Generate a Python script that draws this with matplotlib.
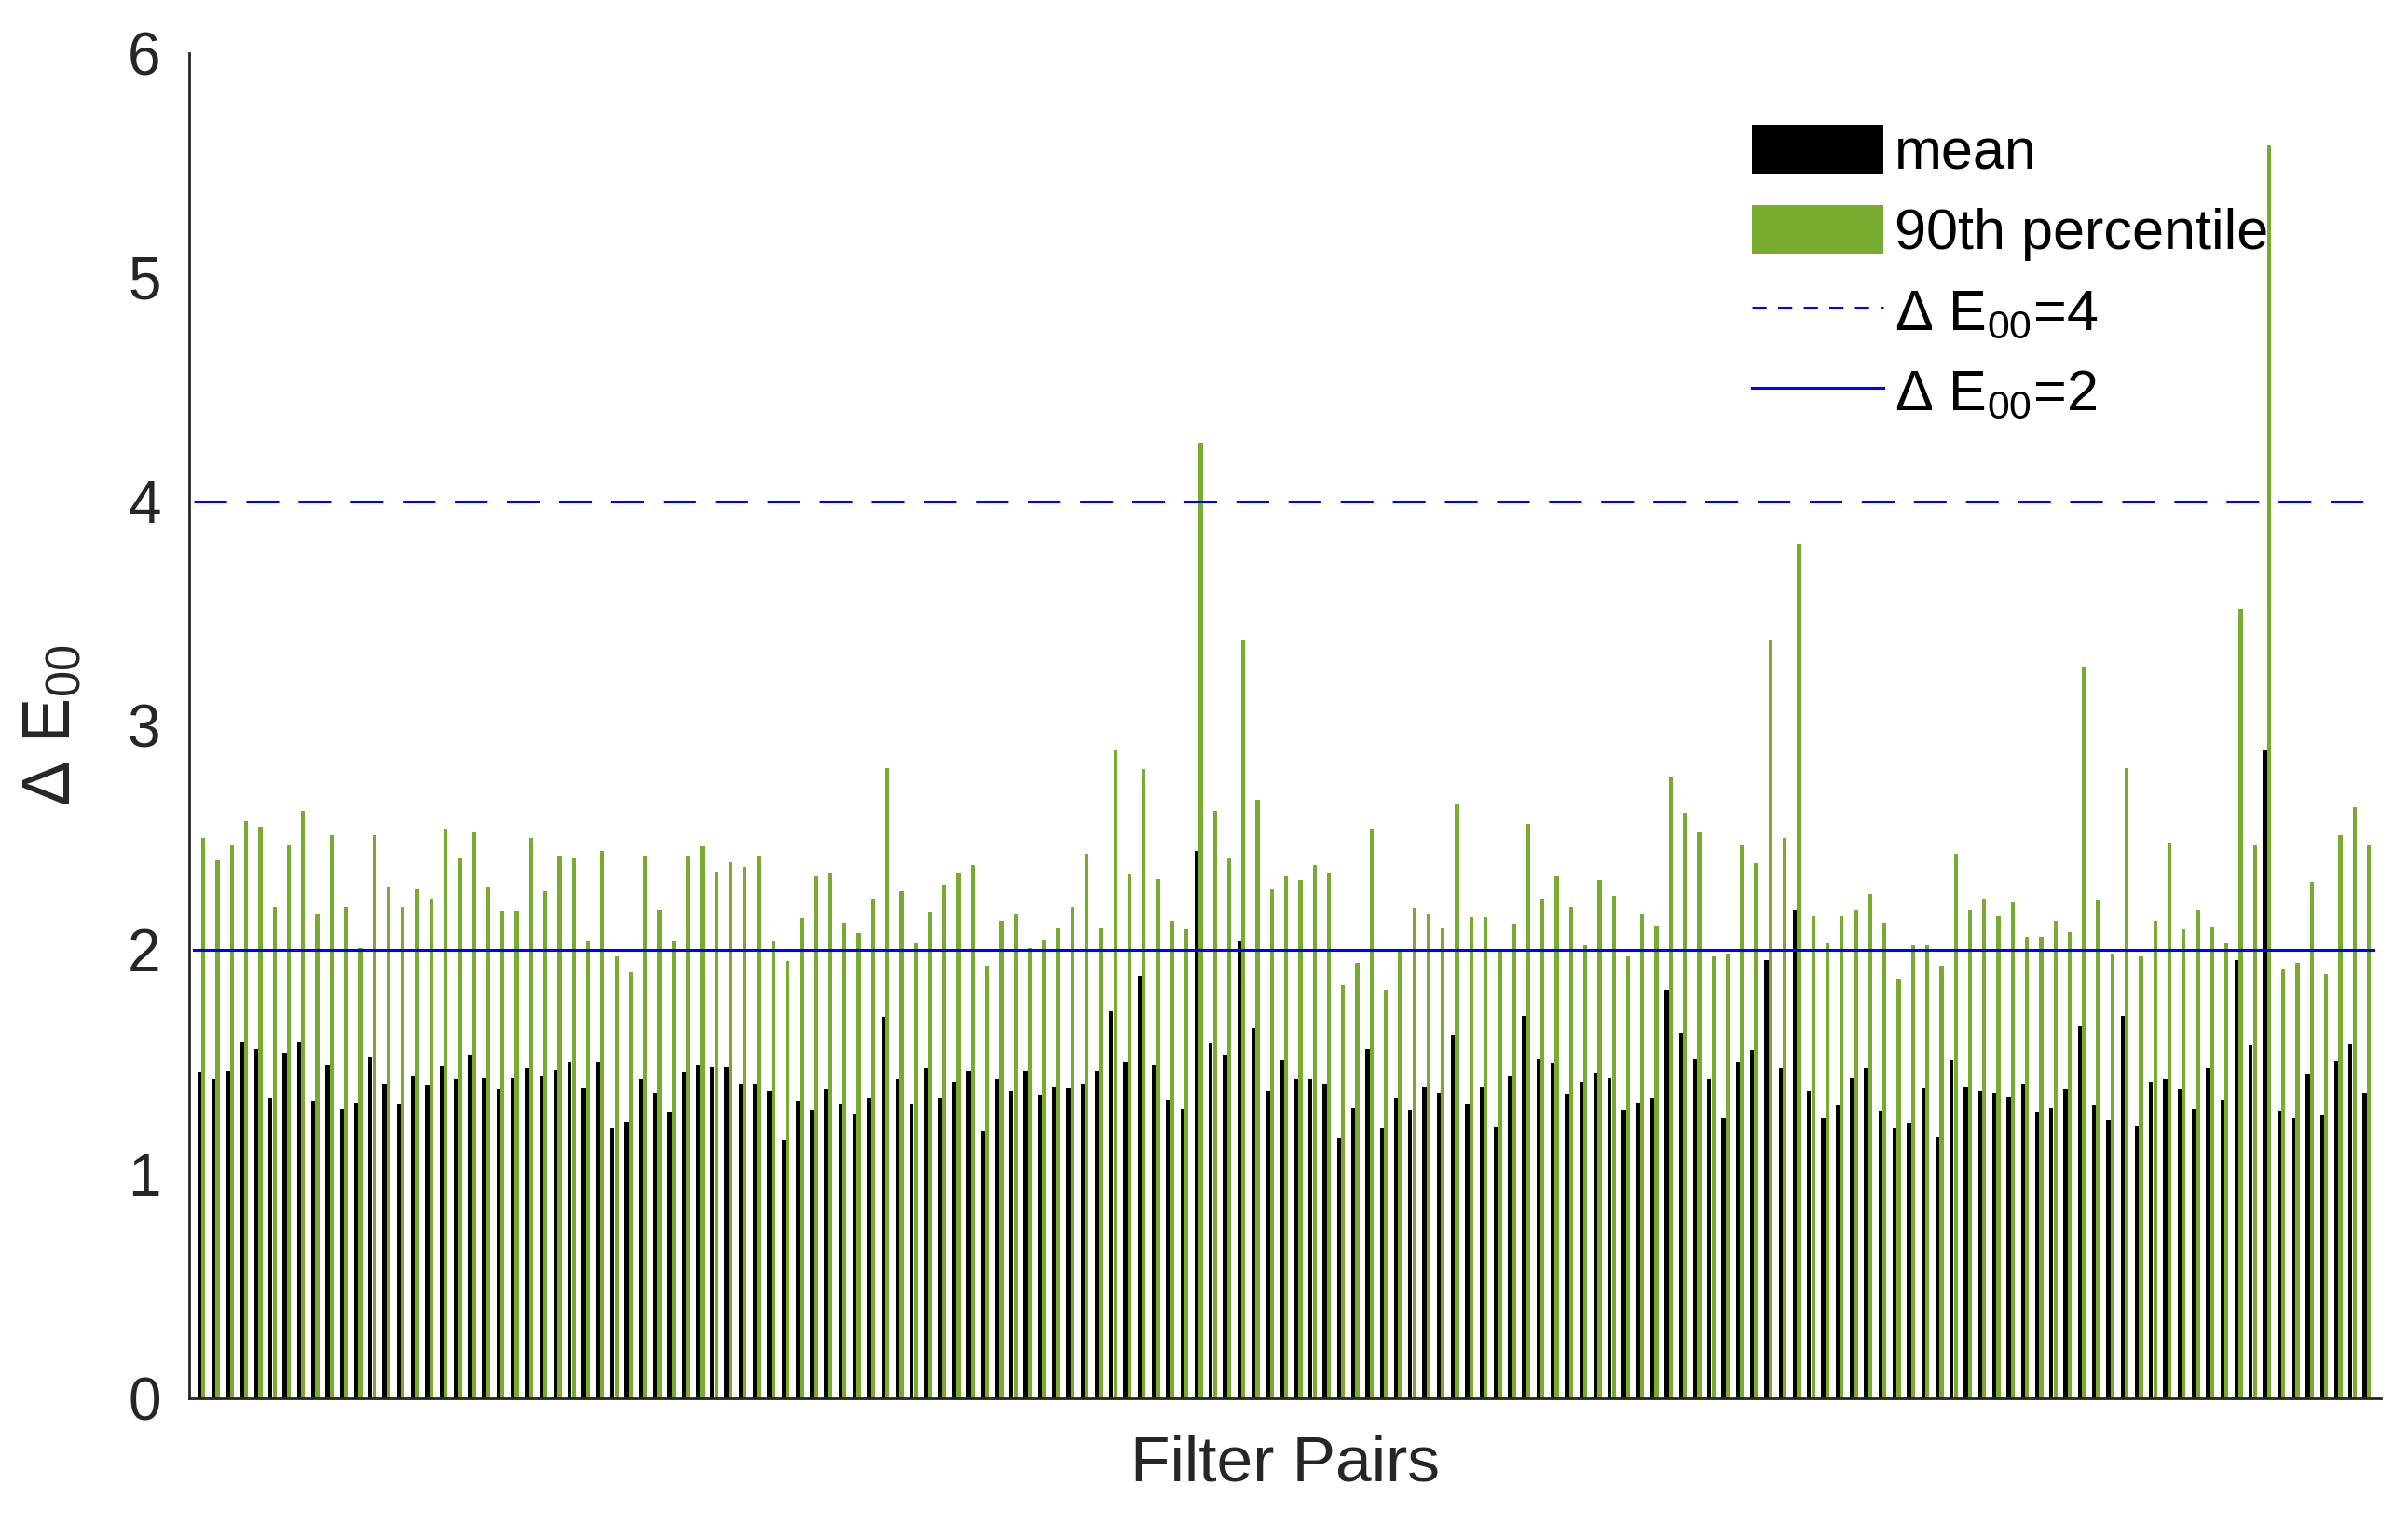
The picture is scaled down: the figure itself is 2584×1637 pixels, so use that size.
import matplotlib
matplotlib.use("Agg")
import matplotlib.pyplot as plt
from matplotlib.patches import Patch
from matplotlib.lines import Line2D
import numpy as np

plt.rcParams['font.family'] = ['Liberation Sans', 'DejaVu Sans']
plt.rcParams['mathtext.fontset'] = 'custom'
plt.rcParams['mathtext.rm'] = 'Liberation Sans'
plt.rcParams['mathtext.it'] = 'Liberation Sans:italic'
plt.rcParams['mathtext.bf'] = 'Liberation Sans:bold'

# mean Delta E00 per filter pair
mean_vals = [
    1.455, 1.425, 1.46, 1.59, 1.56, 1.34, 1.54, 1.59, 1.325, 1.49,
    1.29, 1.32, 1.52, 1.40, 1.315, 1.44, 1.395, 1.48, 1.425, 1.53,
    1.43, 1.38, 1.43, 1.47, 1.44, 1.465, 1.50, 1.385, 1.50, 1.205,
    1.23, 1.425, 1.36, 1.275, 1.455, 1.49, 1.475, 1.475, 1.40, 1.40,
    1.37, 1.15, 1.325, 1.285, 1.38, 1.315, 1.27, 1.34, 1.70, 1.42,
    1.315, 1.47, 1.34, 1.41, 1.46, 1.195, 1.42, 1.37, 1.46, 1.35,
    1.39, 1.385, 1.40, 1.46, 1.725, 1.50, 1.885, 1.49, 1.33, 1.29,
    2.44, 1.585, 1.53, 2.04, 1.65, 1.37, 1.51, 1.425, 1.425, 1.40,
    1.16, 1.295, 1.56, 1.205, 1.34, 1.285, 1.39, 1.36, 1.62, 1.315,
    1.39, 1.21, 1.44, 1.705, 1.515, 1.495, 1.355, 1.41, 1.45, 1.43,
    1.285, 1.32, 1.34, 1.82, 1.63, 1.515, 1.425, 1.25, 1.50, 1.555,
    1.955, 1.47, 2.18, 1.37, 1.25, 1.31, 1.43, 1.47, 1.28, 1.205,
    1.225, 1.385, 1.165, 1.51, 1.39, 1.37, 1.365, 1.345, 1.40, 1.275,
    1.295, 1.38, 1.66, 1.31, 1.245, 1.705, 1.215, 1.41, 1.425, 1.38,
    1.29, 1.47, 1.33, 1.955, 1.575, 2.89, 1.28, 1.25, 1.445, 1.265,
    1.505, 1.58, 1.36,
]

# 90th percentile Delta E00 per filter pair
p90_vals = [
    2.50, 2.40, 2.47, 2.575, 2.55, 2.19, 2.47, 2.62, 2.16, 2.51,
    2.19, 2.01, 2.51, 2.28, 2.19, 2.27, 2.23, 2.54, 2.41, 2.53,
    2.28, 2.175, 2.175, 2.50, 2.26, 2.42, 2.41, 2.04, 2.44, 1.97,
    1.90, 2.42, 2.18, 2.04, 2.42, 2.46, 2.35, 2.39, 2.37, 2.42,
    2.04, 1.95, 2.14, 2.33, 2.34, 2.12, 2.075, 2.23, 2.81, 2.26,
    2.03, 2.17, 2.29, 2.34, 2.38, 1.93, 2.13, 2.16, 2.01, 2.045,
    2.10, 2.19, 2.43, 2.10, 2.89, 2.335, 2.805, 2.315, 2.13, 2.09,
    4.26, 2.62, 2.41, 3.38, 2.67, 2.27, 2.33, 2.31, 2.38, 2.34,
    1.84, 1.94, 2.54, 1.82, 2.00, 2.185, 2.16, 2.095, 2.65, 2.145,
    2.145, 2.00, 2.115, 2.56, 2.23, 2.33, 2.19, 2.02, 2.31, 2.24,
    1.97, 2.16, 2.11, 2.77, 2.61, 2.53, 1.97, 1.985, 2.47, 2.385,
    3.38, 2.50, 3.81, 2.15, 2.03, 2.15, 2.18, 2.25, 2.12, 1.87,
    2.02, 2.02, 1.93, 2.43, 2.18, 2.23, 2.15, 2.21, 2.06, 2.06,
    2.13, 2.08, 3.26, 2.22, 1.985, 2.81, 1.97, 2.13, 2.48, 2.09,
    2.18, 2.105, 2.03, 3.52, 2.47, 5.59, 1.915, 1.94, 2.305, 1.89,
    2.51, 2.635, 2.465,
]

thresholds = [4, 2]
threshold_labels = ['Δ E$_{00}$=4', 'Δ E$_{00}$=2']

green = '#77AC30'
blue = '#0000FF'
axis_grey = '#262626'

x = np.arange(1, len(mean_vals) + 1)

fig = plt.figure(figsize=(25.84, 16.37), dpi=100)
ax = fig.add_axes([0.0786, 0.0837, 0.9102, 0.8815])

ax.bar(x - 0.145, mean_vals, width=0.28, color='black', linewidth=0)
ax.bar(x + 0.145, p90_vals, width=0.28, color=green, linewidth=0)

ax.plot([0.5, len(x) + 0.5], [thresholds[0]] * 2, color=blue, lw=2.2,
        dashes=(11.5, 6.8))
ax.plot([0.5, len(x) + 0.5], [thresholds[1]] * 2, color=blue, lw=2.2)

ax.set_xlim(0.15, 154.0)
ax.set_ylim(0, 6)
ax.set_yticks([0, 1, 2, 3, 4, 5, 6])
ax.set_xticks([])
ax.tick_params(axis='y', length=0, pad=22, labelsize=46, labelcolor=axis_grey)
for s in ['top', 'right']:
    ax.spines[s].set_visible(False)
for s in ['left', 'bottom']:
    ax.spines[s].set_color(axis_grey)
    ax.spines[s].set_linewidth(2.0)

ax.set_xlabel('Filter Pairs', fontsize=50, color=axis_grey, labelpad=28)
ax.set_ylabel('Δ E$_{00}$', fontsize=52, color=axis_grey, labelpad=34)

handles = [
    Patch(facecolor='black', edgecolor='none'),
    Patch(facecolor=green, edgecolor='none'),
    Line2D([], [], color=blue, lw=2.2, dashes=(5, 4)),
    Line2D([], [], color=blue, lw=2.2),
]
leg = fig.legend(handles, ['mean', '90th percentile'] + threshold_labels,
                 loc='upper left', bbox_to_anchor=(1880 / 2584, 1 - 134 / 1637),
                 frameon=False, fontsize=44, handlelength=2.3,
                 handleheight=0.95, handletextpad=0.2, labelspacing=0.42,
                 borderpad=0, borderaxespad=0)

fig.savefig('out.png', dpi=100)
